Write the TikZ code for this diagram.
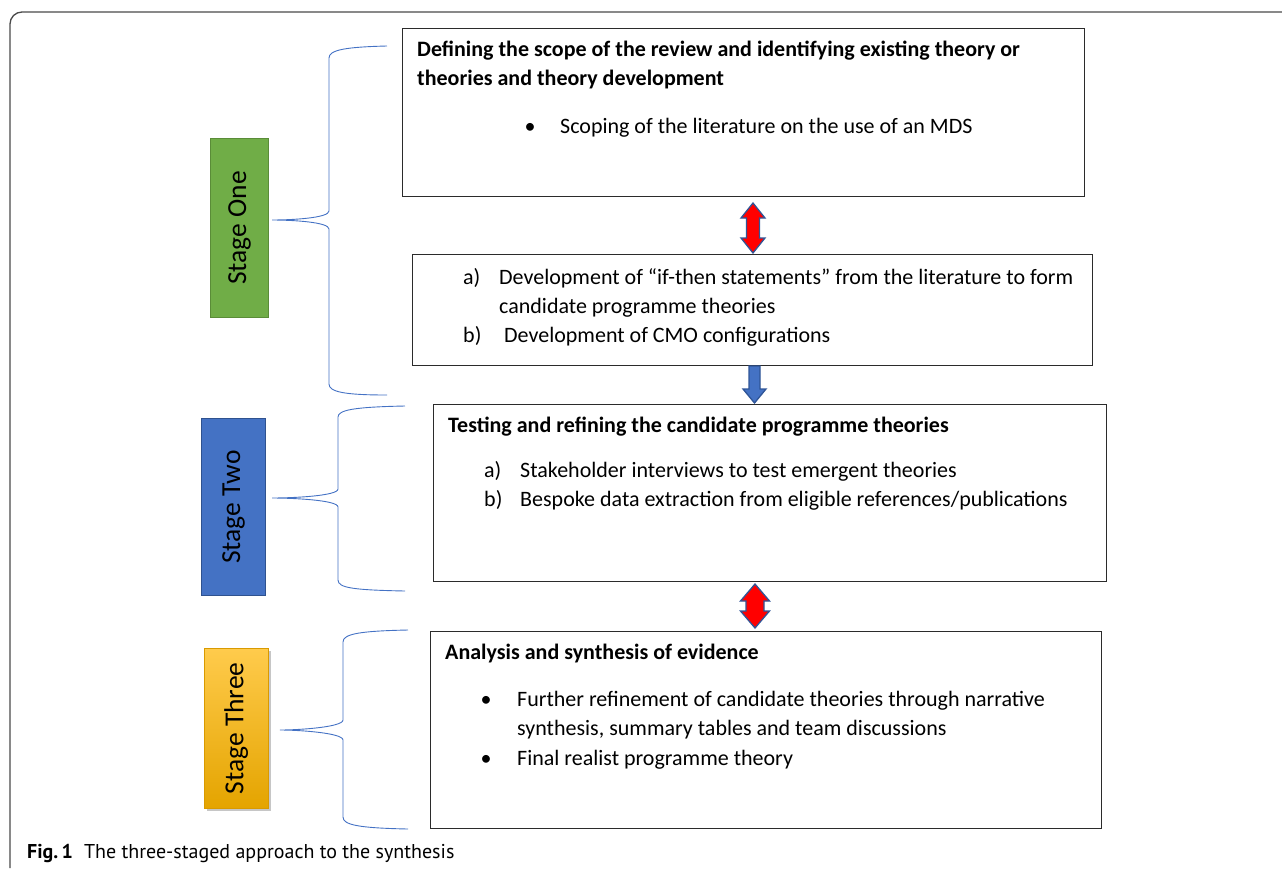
\documentclass[tikz,border=0pt]{standalone}
\usepackage{fontspec}
\setmainfont{Carlito}
\newfontfamily\capfont{PT Sans}
\usetikzlibrary{shadows,calc}
\definecolor{frame}{HTML}{4A4A4A}
\definecolor{boxline}{HTML}{2B2B2B}
\definecolor{brace}{HTML}{4472C4}
\definecolor{sgreen}{HTML}{70AD47}
\definecolor{sgreenb}{HTML}{5A8C38}
\definecolor{sblue}{HTML}{4472C4}
\definecolor{sblueb}{HTML}{2F528F}
\definecolor{sgoldt}{HTML}{FFCB4C}
\definecolor{sgoldb}{HTML}{E4A400}
\definecolor{sgoldl}{HTML}{D99A00}
\definecolor{arrline}{HTML}{2F5597}
\tikzset{
  contentbox/.style={draw=boxline, line width=1.1pt, minimum width=#1, anchor=north west, inner sep=0pt},
  txt/.style={anchor=base west, inner sep=0pt, font=\fontsize{22}{26}\selectfont},
  btxt/.style={txt, font=\fontsize{22}{26}\selectfont\bfseries},
  bul/.style={anchor=base, inner sep=0pt, font=\fontsize{22}{26}\selectfont},
  stagebox/.style={anchor=north west, inner sep=0pt, line width=1pt},
  stagetxt/.style={rotate=90, font=\fontsize{27.5}{30}\selectfont, inner sep=0pt},
  bracel/.style={draw=brace, line width=0.9pt},
  redarrow/.style={fill=red, draw=arrline, line width=1.3pt, line join=miter},
  bluearrow/.style={fill=sblue, draw=arrline, line width=1.3pt, line join=miter},
}
\begin{document}
\begin{tikzpicture}[x=1pt,y=-1pt]
\useasboundingbox (0,0) rectangle (1282,868);
% outer frame
\draw[frame, line width=1.3pt, rounded corners=12pt] (1282,12) -- (10,12) -- (10,868);

% content boxes
\node[contentbox=682pt, minimum height=168pt] (b1) at (402,28) {};
\node[contentbox=680pt, minimum height=111pt] (b2) at (412,254) {};
\node[contentbox=673pt, minimum height=177pt] (b3) at (433,404) {};
\node[contentbox=671pt, minimum height=197pt] (b4) at (430,631) {};

% box 1 text
\node[btxt] (t11) at (417,56) {Defining the scope of the review and identifying existing theory or};
\node[btxt] (t12) at (417,85) {theories and theory development};
\node[bul] (t13b) at (530,133) {\textbullet};
\node[txt] (t13) at (560,133) {Scoping of the literature on the use of an MDS};

% box 2 text
\node[txt] (t21a) at (463,284) {a)};
\node[txt] (t21) at (499,284) {Development of “if-then statements” from the literature to form};
\node[txt] (t22) at (499,313) {candidate programme theories};
\node[txt] (t23a) at (463,342) {b)};
\node[txt] (t23) at (504,342) {Development of CMO configurations};

% box 3 text
\node[btxt] (t31) at (448,432) {Testing and refining the candidate programme theories};
\node[txt] (t32a) at (484,477) {a)};
\node[txt] (t32) at (520,477) {Stakeholder interviews to test emergent theories};
\node[txt] (t33a) at (484,506) {b)};
\node[txt] (t33) at (520,506) {Bespoke data extraction from eligible references/publications};

% box 4 text
\node[btxt] (t41) at (445,659) {Analysis and synthesis of evidence};
\node[bul] (t42b) at (486,706) {\textbullet};
\node[txt] (t42) at (517,706) {Further refinement of candidate theories through narrative};
\node[txt] (t43) at (517,735) {synthesis, summary tables and team discussions};
\node[bul] (t44b) at (486,765) {\textbullet};
\node[txt] (t44) at (517,765) {Final realist programme theory};

% stage boxes
\node[stagebox, fill=sgreen, draw=sgreenb, minimum width=58pt, minimum height=179pt] (s1) at (210,138) {};
\node[stagetxt] (s1t) at (s1.center) {Stage One};
\node[stagebox, fill=sblue, draw=sblueb, minimum width=64pt, minimum height=177pt] (s2) at (201,418) {};
\node[stagetxt] (s2t) at (s2.center) {Stage Two};
\node[stagebox, top color=sgoldt, bottom color=sgoldb, draw=sgoldl, line width=0.6pt, minimum width=64pt, minimum height=160pt,
      drop shadow={shadow xshift=3pt, shadow yshift=-3pt, opacity=0.45}] (s3) at (204,648) {};
\node[stagetxt] (s3t) at (s3.center) {Stage Three};

% braces
\coordinate (br1) at (272,220);
\coordinate (br2) at (272,498);
\coordinate (br3) at (280,730);
\draw[bracel] (387,46) .. controls (345,47) and (329,50) .. (329,58) -- (329,211)
  .. controls (329,218) and (292,220) .. (br1)
  .. controls (292,220) and (329,222) .. (329,229) -- (329,384)
  .. controls (329,392) and (345,395) .. (387,395);
\draw[bracel] (405,406) .. controls (354,407) and (338,410) .. (338,417) -- (338,489)
  .. controls (338,496) and (292,498) .. (br2)
  .. controls (292,498) and (338,500) .. (338,507) -- (338,580)
  .. controls (338,588) and (354,590) .. (405,591);
\draw[bracel] (408,630) .. controls (359,631) and (343,634) .. (343,642) -- (343,720)
  .. controls (343,727) and (300,730) .. (br3)
  .. controls (300,730) and (343,733) .. (343,740) -- (343,817)
  .. controls (343,825) and (359,828) .. (408,829);

% arrows
\draw[redarrow] (753,203) -- (765,218) -- (759.5,218) -- (759.5,238) -- (765,238) -- (753,253)
  -- (741,238) -- (746.5,238) -- (746.5,218) -- (741,218) -- cycle;
\draw[bluearrow] (749,366) -- (760,366) -- (760,389) -- (766,389) -- (754.5,403) -- (743,389) -- (749,389) -- cycle;
\draw[redarrow] (755,584) -- (769.5,601) -- (764,601) -- (764,611) -- (769.5,611) -- (755,628)
  -- (740.5,611) -- (746,611) -- (746,601) -- (740.5,601) -- cycle;

% caption
\node[anchor=base west, inner sep=0pt, font=\capfont\fontsize{20}{24}\selectfont] (cap) at (27,858)
  {\textbf{Fig.\,1}\hspace{11pt}The three-staged approach to the synthesis};
\end{tikzpicture}
\end{document}
